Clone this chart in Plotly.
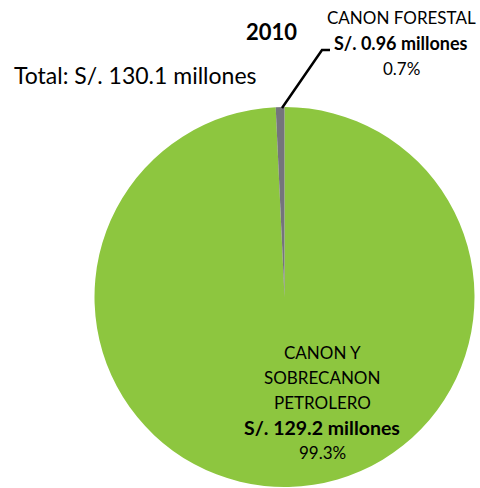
import plotly.graph_objects as go

labels = ["CANON Y SOBRECANON PETROLERO", "CANON FORESTAL"]
label_lines = [["CANON Y", "SOBRECANON", "PETROLERO"], ["CANON FORESTAL"]]
values = [129.2, 0.96]
colors = ["#8DC63F", "#74747C"]
year = "2010"
total_text = "Total: S/. 130.1 millones"

W, H = 480, 488
total = sum(values)
pcts = [v / total * 100 for v in values]

fig = go.Figure(go.Pie(
    labels=labels, values=values, sort=False, direction="clockwise",
    rotation=0, marker=dict(colors=colors, line=dict(width=0)),
    textinfo="none", textposition="none", hoverinfo="label+value+percent",
    showlegend=False,
    domain=dict(x=[(284.5 - 190) / W, (284.5 + 190) / W],
                y=[1 - 487 / H, 1 - 107 / H]),
))

FONT = "Lato, Open Sans, sans-serif"

def px(x, y):
    return x / W, 1 - y / H

anns = []
def add(text, x, y, size, bold=False, xanchor="center"):
    ax, ay = px(x, y)
    t = f"<b>{text}</b>" if bold else text
    anns.append(dict(text=t, x=ax, y=ay, xref="paper", yref="paper",
                     xanchor=xanchor, yanchor="middle", showarrow=False,
                     font=dict(family=FONT, size=size, color="#000000")))

add(year, 271, 32, 22, bold=True)
add(total_text, 12, 75, 23, xanchor="left")

# small slice label
add(label_lines[1][0], 401, 18, 17)
add(f"S/. {values[1]:.2f} millones", 401, 43, 18, bold=True)
add(f"{pcts[1]:.1f}%", 401, 68, 17)

# large slice label
ys = [352, 377, 402]
for line, y in zip(label_lines[0], ys):
    add(line, 322, y, 17)
add(f"S/. {values[0]:.1f} millones", 322, 427, 19.5, bold=True)
add(f"{pcts[0]:.1f}%", 322, 452, 17)

p1 = px(282, 108); p2 = px(322, 50); p3 = px(330, 50)
shapes = [dict(type="path", xref="paper", yref="paper",
               path=f"M {p1[0]} {p1[1]} L {p2[0]} {p2[1]} L {p3[0]} {p3[1]}",
               line=dict(color="black", width=2.5))]

fig.update_layout(width=W, height=H, margin=dict(l=0, r=0, t=0, b=0),
                  paper_bgcolor="white", plot_bgcolor="white",
                  annotations=anns, shapes=shapes)
fig.write_html("out.html", config={"displayModeBar": False},
               post_script="document.body.style.margin='0';document.body.style.overflow='hidden';")
